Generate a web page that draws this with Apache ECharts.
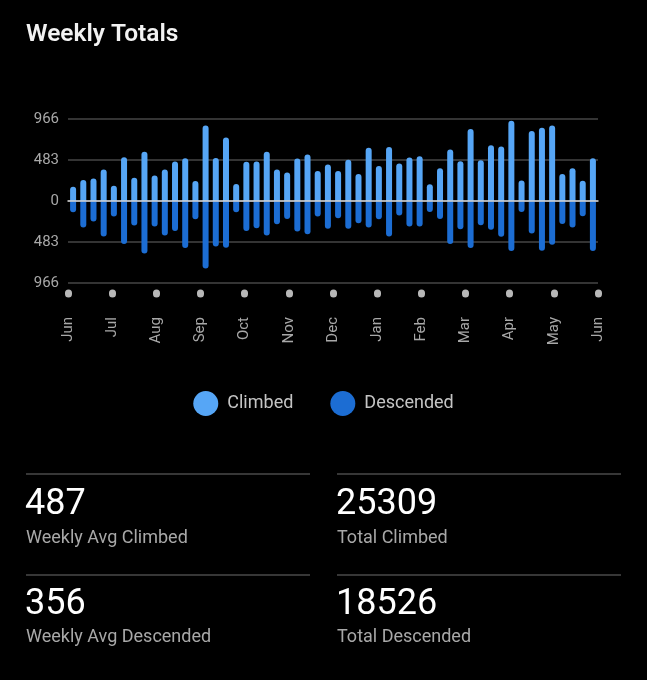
<!DOCTYPE html>
<html>
<head>
<meta charset="utf-8">
<script src="https://cdn.jsdelivr.net/npm/echarts@6/dist/echarts.min.js"></script>
<style>
html,body{margin:0;padding:0;background:#000;}
#chart{width:647px;height:680px;}
</style>
</head>
<body>
<div id="chart"></div>
<script>
const monthLabels = ['Jun','Jul','Aug','Sep','Oct','Nov','Dec','Jan','Feb','Mar','Apr','May','Jun'];
const climbed = [168,246,266,371,180,516,274,579,301,371,465,504,235,888,508,747,200,461,465,579,371,336,500,547,352,430,352,485,317,626,411,637,442,512,528,196,387,606,469,848,481,657,641,946,242,825,864,888,317,387,239,504];
const descended = [133,313,242,418,184,508,289,618,301,407,352,555,215,794,536,551,133,352,321,407,274,211,360,391,184,328,203,328,262,313,215,418,172,301,301,129,211,508,332,555,285,340,422,590,129,383,587,516,270,313,180,590];
const weeks = climbed.map((_, i) => 'W' + (i + 1));
const yTicks = [-966, -483, 0, 483, 966];
const statValues = ['487', '25309', '356', '18526'];
const statLabels = ['Weekly Avg Climbed', 'Total Climbed', 'Weekly Avg Descended', 'Total Descended'];
const seriesNames = ['Climbed', 'Descended'];

const FONT = 'Roboto, "Noto Sans", sans-serif';
const colClimb = '#56a6f6';
const colDesc = '#1c6dd3';

const statCols = [26, 337];
const statRows = [{line: 474, num: 505, lab: 538}, {line: 575, num: 605, lab: 637}];
const graphics = [];
for (let r = 0; r < 2; r++) {
  for (let c = 0; c < 2; c++) {
    const idx = r * 2 + c;
    const x = statCols[c];
    graphics.push({type: 'line', shape: {x1: x, y1: statRows[r].line, x2: x + 284, y2: statRows[r].line}, style: {stroke: '#4a4a4a', lineWidth: 1.5}});
    graphics.push({type: 'text', x: x - 1, y: statRows[r].num, style: {text: statValues[idx], fill: '#ffffff', font: '400 36px ' + FONT, textVerticalAlign: 'middle'}});
    graphics.push({type: 'text', x: x, y: statRows[r].lab, style: {text: statLabels[idx], fill: '#a8a8a8', font: '400 18px ' + FONT, textVerticalAlign: 'middle'}});
  }
}

const chart = echarts.init(document.getElementById('chart'), null, {renderer: 'canvas'});
chart.setOption({
  backgroundColor: '#000',
  animation: false,
  textStyle: {fontFamily: FONT},
  title: {
    text: 'Weekly Totals', left: 21, top: 17,
    textStyle: {color: '#f2f2f2', fontSize: 24.5, fontWeight: 600, fontFamily: FONT}
  },
  legend: {
    data: seriesNames, left: 'center', top: 386, icon: 'circle',
    itemWidth: 25, itemHeight: 25, itemGap: 37,
    textStyle: {color: '#c4c4c4', fontSize: 18, fontFamily: FONT, padding: [0, 0, 0, 4]}
  },
  grid: {left: 68, right: 49, top: 119, bottom: 397, containLabel: false},
  xAxis: [
    {
      type: 'category', data: weeks, gridIndex: 0, z: 10,
      axisLine: {show: true, onZero: true, lineStyle: {color: '#d4d4d4', width: 1.5}},
      axisTick: {show: false}, axisLabel: {show: false}, splitLine: {show: false}
    },
    {
      type: 'value', gridIndex: 0, min: 0, max: 12, interval: 1, position: 'bottom', offset: 10,
      axisLine: {show: false},
      axisTick: {show: true, length: 1, lineStyle: {color: '#b8b8b8', width: 7, cap: 'round'}},
      splitLine: {show: false},
      axisLabel: {
        rotate: 90, margin: 24, color: '#a8a8a8', fontSize: 15, fontFamily: FONT,
        formatter: v => monthLabels[v]
      }
    }
  ],
  yAxis: {
    type: 'value', min: yTicks[0], max: yTicks[yTicks.length - 1], interval: 483,
    axisLine: {show: false}, axisTick: {show: false},
    splitLine: {lineStyle: {color: '#464646', width: 1.5}},
    axisLabel: {color: '#a8a8a8', fontSize: 15, margin: 9, fontFamily: FONT, formatter: v => String(Math.abs(v))}
  },
  series: [
    {
      name: seriesNames[0], type: 'bar', stack: 'total', barWidth: 6, xAxisIndex: 0,
      itemStyle: {color: colClimb, borderRadius: [3, 3, 0, 0]},
      data: climbed
    },
    {
      name: seriesNames[1], type: 'bar', stack: 'total', barWidth: 6, xAxisIndex: 0,
      itemStyle: {color: colDesc, borderRadius: [0, 0, 3, 3]},
      data: descended.map(v => -v)
    }
  ],
  graphic: graphics
});
</script>
</body>
</html>
